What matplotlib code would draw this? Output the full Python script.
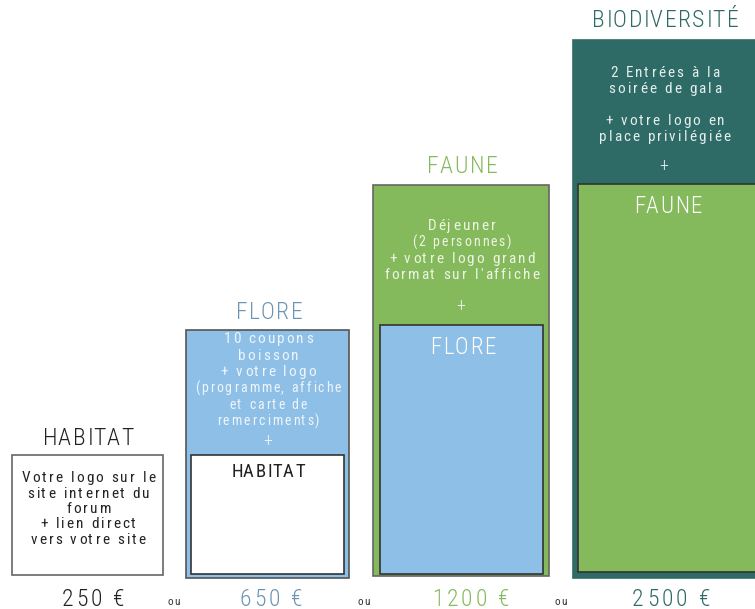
import matplotlib
matplotlib.use("Agg")
import matplotlib.pyplot as plt
from matplotlib.patches import Rectangle
from matplotlib import font_manager as fm
from matplotlib.font_manager import FontProperties

# ---- data ----
tiers = ["HABITAT", "FLORE", "FAUNE", "BIODIVERSITÉ"]
prices = ["250 €", "650 €", "1200 €", "2500 €"]
descriptions = [
    ["Votre logo sur le", "site internet du", "forum", "+ lien direct", "vers votre site"],
    ["10 coupons", "boisson", "+ votre logo", "(programme, affiche", "et carte de", "remerciments)"],
    ["Déjeuner", "(2 personnes)", "+ votre logo grand", "format sur l'affiche"],
    ["2 Entrées à la", "soirée de gala", "", "+ votre logo en", "place privilégiée"],
]
separator = "ou"

# ---- styles / layout ----
fills = ["#ffffff", "#8ebfe7", "#85ba5c", "#2f6b66"]
title_colors = ["#222222", "#6e94b3", "#85ba5c", "#2f6b66"]
desc_colors = ["#222222", "#eef5fb", "#eef4e6", "#e4eeed"]
edge_colors = ["#666666", "#555555", "#666666", "#2f6b66"]
outer = [(12, 163, 455, 575), (186, 349, 330, 578), (373, 549, 185, 576), (573, 757, 40, 578)]
inner = [None, (191, 344, 455, 574), (380, 543, 325, 574), (578, 757, 184, 572)]
inner_title_size = [None, 13.5, 16.5, 16.5]
inner_title_dy = [None, 15, 21, 21]
title_y = [437, 311, 165, 19]
price_x = [92, 270, 470, 670]
ou_x = [173, 363, 560]
desc_start = [477, 338, 225, 72]
desc_step = [15.3, 16.5, 16.3, 15.8]
plus_y = [None, 440, 305, 165]

avail = {f.name for f in fm.fontManager.ttflist}
fam = "DejaVu Sans"
stretch = "condensed"
for cand in ["Roboto Condensed", "Liberation Sans Narrow", "Open Sans Condensed"]:
    if cand in avail:
        fam = cand
        stretch = "normal"
        break

try:
    from matplotlib.ft2font import LoadFlags, Kerning
    NOHINT = LoadFlags.NO_HINTING
    KDEF = Kerning.DEFAULT
except Exception:  # older matplotlib
    from matplotlib.ft2font import LOAD_NO_HINTING as NOHINT, KERNING_DEFAULT as KDEF

DPI = 100
fig = plt.figure(figsize=(7.55, 6.09), dpi=DPI)
ax = fig.add_axes([0, 0, 1, 1])
ax.set_xlim(0, 755)
ax.set_ylim(609, 0)
ax.axis("off")


def glyph_layout(s, prop, gap):
    """Return list of (char, ink_left_x) relative positions and ink extents."""
    font = fm.get_font(fm.findfont(prop))
    font.set_size(prop.get_size_in_points(), DPI)
    pen = 0.0
    items = []
    prev = None
    for ch in s:
        g = font.load_char(ord(ch), flags=NOHINT)
        gi = font.get_char_index(ord(ch))
        if prev is not None:
            pen += font.get_kerning(prev, gi, KDEF) / 64.0
        lsb = g.horiBearingX / 64.0
        w = g.width / 64.0
        items.append((ch, pen + lsb, pen + lsb + w))
        pen += g.linearHoriAdvance / 65536.0 + gap
        prev = gi
    ink = [it for it in items if it[0] != " "]
    left = min(it[1] for it in ink)
    right = max(it[2] for it in ink)
    return items, left, right


def txt(x, y, s, size, color, track=0.0, weight="light", baseline=None):
    """Centered text with letter spacing (track in em); y = visual cap centre."""
    prop = FontProperties(family=fam, stretch=stretch, weight=weight, size=size)
    em = size * DPI / 72.0
    yb = baseline if baseline is not None else y + 0.355 * em
    if s.strip() == "":
        return
    if track == 0 or len(s) <= 1:
        ax.text(x, yb, s, fontproperties=prop, color=color, ha="center", va="baseline")
        return
    items, left, right = glyph_layout(s, prop, track * em)
    x0 = x - (left + right) / 2
    for ch, ink_l, ink_r in items:
        if ch == " ":
            continue
        ax.text(x0 + ink_l, yb, ch, fontproperties=prop, color=color,
                ha="left", va="baseline")


for i, t in enumerate(tiers):
    x0, x1, yt, yb = outer[i]
    ax.add_patch(Rectangle((x0, yt), x1 - x0, yb - yt, facecolor=fills[i],
                           edgecolor=edge_colors[i], lw=1.2))
    cx = (x0 + min(x1, 755)) / 2
    txt(cx, title_y[i], t, 17, title_colors[i], track=0.06)
    for k, line in enumerate(descriptions[i]):
        sz = 10 if (i == 1 and k >= 3) or (i == 2 and k == 1) else 11
        txt(cx, desc_start[i] + k * desc_step[i], line, sz, desc_colors[i],
            track=0.14, weight="normal")
    if inner[i] is not None:
        ix0, ix1, iyt, iyb = inner[i]
        ax.add_patch(Rectangle((ix0, iyt), ix1 - ix0, iyb - iyt, facecolor=fills[i - 1],
                               edgecolor="#333333", lw=1.2))
        icx = (ix0 + min(ix1, 755)) / 2
        icol = "#222222" if i == 1 else "#ffffff"
        txt(icx, iyt + inner_title_dy[i], tiers[i - 1], inner_title_size[i], icol,
            track=0.06, weight="normal" if i == 1 else "light")
        txt(cx, plus_y[i], "+", 13, desc_colors[i])
    txt(price_x[i], 0, prices[i], 17, title_colors[i], track=0.13, baseline=606.5)

for x in ou_x:
    txt(x, 0, separator, 8, "#333333", track=0.1, weight="normal", baseline=605)

fig.savefig("out.png", dpi=DPI)
